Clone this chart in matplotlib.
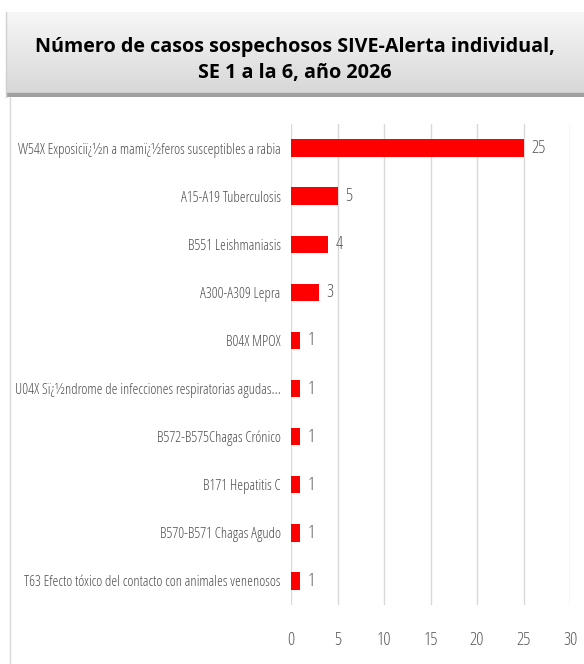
import numpy as np
import matplotlib
matplotlib.use('Agg')
import matplotlib.pyplot as plt
from matplotlib.lines import Line2D
from matplotlib.colors import LinearSegmentedColormap

labels = [
    'W54X Exposiciï¿½n a mamï¿½feros susceptibles a rabia',
    'A15-A19 Tuberculosis',
    'B551 Leishmaniasis',
    'A300-A309 Lepra',
    'B04X MPOX',
    'U04X Sï¿½ndrome de infecciones respiratorias agudas...',
    'B572-B575Chagas Crónico',
    'B171 Hepatitis C',
    'B570-B571 Chagas Agudo',
    'T63 Efecto tóxico del contacto con animales venenosos',
]
casos = [25, 5, 4, 3, 1, 1, 1, 1, 1, 1]
ticks = [0, 5, 10, 15, 20, 25, 30]

W, H = 584, 664
fig = plt.figure(figsize=(W / 100, H / 100), dpi=100)
cond = dict(family='Open Sans', stretch='condensed', weight='light')
gris = '#595959'

# title box with gradient
tax = fig.add_axes([6 / W, 1 - 97 / H, 1 - 6 / W, 85 / H])
grad = np.linspace(0, 1, 100).reshape(-1, 1)
cm = LinearSegmentedColormap.from_list('g', ['#f7f7f7', '#d6d6d6'])
tax.imshow(grad, aspect='auto', cmap=cm, extent=[0, 1, 0, 1])
tax.axhspan(0, 0.05, color='#a0a0a0')
tax.set_xlim(0, 1)
tax.set_ylim(0, 1)
tax.axis('off')
tax.text(0.5, 0.435, 'Número de casos sospechosos SIVE-Alerta individual,\nSE 1 a la 6, año 2026',
         ha='center', va='center', fontsize=14.2, fontweight='bold', family='Open Sans',
         linespacing=1.45, color='black')
fig.add_artist(Line2D([6 / W, 6 / W], [1 - 97 / H, 1 - 12 / H], color='#d0d0d0', lw=1))

# left frame line
fig.add_artist(Line2D([10 / W, 10 / W], [0, 1 - 97 / H], color='#d9d9d9', lw=1))

ax = fig.add_axes([291 / W, 1 - 605 / H, (570 - 291) / W, (605 - 124) / H])
y = np.arange(len(labels))
ax.barh(y, casos, height=0.36, color='#ff0000', zorder=3)
for yi, v in zip(y, casos):
    ax.text(v + 0.8, yi, str(v), va='center', ha='left', fontsize=13,
            color=gris, **cond)
ax.set_xlim(0, 30)
ax.set_ylim(len(labels) - 0.5, -0.5)
ax.set_xticks(ticks)
ax.set_xticklabels([str(t) for t in ticks], fontsize=13, color=gris, **cond)
ax.set_yticks(y)
ax.set_yticklabels(labels, fontsize=10.6, color='#505050', **cond)
ax.tick_params(axis='x', length=0, pad=19)
ax.tick_params(axis='y', length=0, pad=7.5)
ax.grid(axis='x', color='#d9d9d9', lw=1, zorder=0)
for s in ax.spines.values():
    s.set_visible(False)

fig.savefig('out.png', dpi=100)
